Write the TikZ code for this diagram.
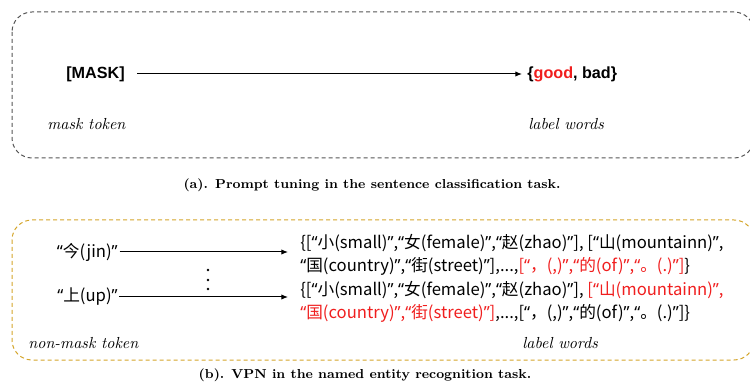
\documentclass[tikz,border=0pt]{standalone}
\usepackage{fontspec}
\newfontfamily\cjk{Noto Sans CJK SC}
\newfontfamily\lsans{Liberation Sans}
\newfontfamily\qfont{Noto Sans}
\newcommand\myoq{{\qfont “}}
\newcommand\mycq{{\qfont ”}}
\usetikzlibrary{arrows.meta}
\definecolor{boxgray}{HTML}{555555}
\definecolor{boxgold}{HTML}{D4A52A}
\definecolor{lred}{HTML}{F01E1E}
\tikzset{
  frameA/.style={draw=boxgray, dash pattern=on 2.4pt off 1.8pt, rounded corners=12pt, line width=0.6pt},
  frameB/.style={draw=boxgold, dash pattern=on 2.4pt off 1.8pt, rounded corners=12pt, line width=0.6pt},
  conn/.style={-{Latex[length=4pt,width=3.2pt]}, line width=0.6pt},
  boldsans/.style={font=\lsans\bfseries\fontsize{9.7}{11}\selectfont, inner sep=0pt},
  itlabel/.style={font=\itshape\fontsize{9.6}{11}\selectfont, inner sep=0pt},
  captext/.style={font=\bfseries\fontsize{7.8}{10}\selectfont, inner sep=0pt},
  cjkt/.style={font=\cjk\fontsize{10}{14.1}\selectfont, align=left, inner sep=0pt},
}
\begin{document}
\begin{tikzpicture}[x=0.6pt,y=-0.6pt]
\useasboundingbox (0,0) rectangle (750,383);
% panel (a)
\draw[frameA] (12,12) rectangle (754,158);
\node[boldsans, anchor=east] (mask) at (125,74) {[MASK]};
\node[boldsans, anchor=west] (lw) at (527,74) {\{\textcolor{lred}{good}, bad\}};
\draw[conn, shorten <=7.2pt, shorten >=3pt] (mask) -- (lw);
\node[itlabel, anchor=west] (mt) at (47,124) {mask token};
\node[itlabel, anchor=west] (lwa) at (528,124) {label words};
\node[captext] (capa) at (372,185) {(a). Prompt tuning in the sentence classification task.};
% panel (b)
\draw[frameB] (12,220) rectangle (754,360);
\node[cjkt, anchor=east] (jin) at (118,252) {\myoq 今(jin)\mycq};
\node[cjkt, anchor=east] (up) at (118,297) {\myoq 上(up)\mycq};
\node[cjkt, anchor=west] (l1) at (300,255) {\{[\myoq 小(small)\mycq,\myoq 女(female)\mycq,\myoq 赵(zhao)\mycq], [\myoq 山(mountainn)\mycq,\\\myoq 国(country)\mycq,\myoq 街(street)\mycq],...,\textcolor{lred}{[\myoq ，(,)\mycq,\myoq 的(of)\mycq,\myoq 。(.)\mycq]}\}};
\node[cjkt, anchor=west] (l2) at (300,302) {\{[\myoq 小(small)\mycq,\myoq 女(female)\mycq,\myoq 赵(zhao)\mycq], \textcolor{lred}{[\myoq 山(mountainn)\mycq,}\\\textcolor{lred}{\myoq 国(country)\mycq,\myoq 街(street)\mycq]},...,[\myoq ，(,)\mycq,\myoq 的(of)\mycq,\myoq 。(.)\mycq]\}};
\draw[conn, shorten <=1pt, shorten >=7.2pt] (jin.east) -- (jin.east -| l1.west);
\draw[conn, shorten <=0.5pt, shorten >=7.2pt] (up.east) -- (up.east -| l2.west);
\fill (208,270) circle (0.8pt) (208,280) circle (0.8pt) (208,289) circle (0.8pt);
\node[itlabel, anchor=west] (nmt) at (28,343) {non-mask token};
\node[itlabel, anchor=west] (lwb) at (522,343) {label words};
\node[captext] (capb) at (365,375) {(b). VPN in the named entity recognition task.};
\end{tikzpicture}
\end{document}
